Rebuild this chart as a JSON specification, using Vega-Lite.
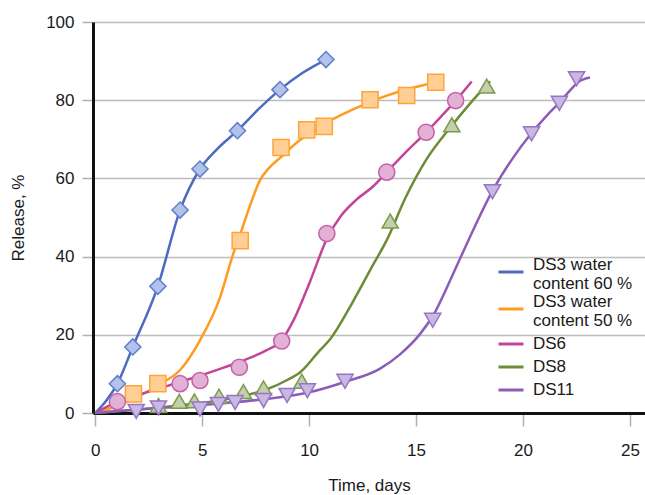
{
  "$schema": "https://vega.github.io/schema/vega-lite/v6.json",
  "width": 552,
  "height": 391,
  "autosize": "none",
  "padding": {"left": 93, "top": 22, "right": 0, "bottom": 82},
  "background": "white",
  "config": {
    "view": {"stroke": null},
    "font": "Liberation Sans",
    "axis": {"labelFont": "Liberation Sans", "titleFont": "Liberation Sans", "labelFontSize": 17, "titleFontSize": 17, "labelColor": "#1a1a1a", "titleColor": "#1a1a1a", "titleFontWeight": "normal"},
    "legend": {"labelFont": "Liberation Sans"}
  },
  "datasets": {
    "pts": [
      {"series": "DS3 water content 60 %", "x": 1.04, "y": 7.5},
      {"series": "DS3 water content 60 %", "x": 1.76, "y": 16.9},
      {"series": "DS3 water content 60 %", "x": 2.93, "y": 32.4},
      {"series": "DS3 water content 60 %", "x": 3.97, "y": 51.9},
      {"series": "DS3 water content 60 %", "x": 4.9, "y": 62.4},
      {"series": "DS3 water content 60 %", "x": 6.65, "y": 72.2},
      {"series": "DS3 water content 60 %", "x": 8.64, "y": 82.7},
      {"series": "DS3 water content 60 %", "x": 10.79, "y": 90.4},
      {"series": "DS3 water content 50 %", "x": 1.79, "y": 4.9},
      {"series": "DS3 water content 50 %", "x": 2.93, "y": 7.5},
      {"series": "DS3 water content 50 %", "x": 6.78, "y": 44.1},
      {"series": "DS3 water content 50 %", "x": 8.69, "y": 67.9},
      {"series": "DS3 water content 50 %", "x": 9.89, "y": 72.4},
      {"series": "DS3 water content 50 %", "x": 10.71, "y": 73.3},
      {"series": "DS3 water content 50 %", "x": 12.85, "y": 80.1},
      {"series": "DS3 water content 50 %", "x": 14.56, "y": 81.2},
      {"series": "DS3 water content 50 %", "x": 15.92, "y": 84.6},
      {"series": "DS6", "x": 1.04, "y": 2.9},
      {"series": "DS6", "x": 3.97, "y": 7.5},
      {"series": "DS6", "x": 4.9, "y": 8.3},
      {"series": "DS6", "x": 6.74, "y": 11.7},
      {"series": "DS6", "x": 8.72, "y": 18.4},
      {"series": "DS6", "x": 10.83, "y": 45.9},
      {"series": "DS6", "x": 13.63, "y": 61.6},
      {"series": "DS6", "x": 15.47, "y": 71.8},
      {"series": "DS6", "x": 16.85, "y": 79.9},
      {"series": "DS8", "x": 2.96, "y": 1.9},
      {"series": "DS8", "x": 3.93, "y": 3.0},
      {"series": "DS8", "x": 4.64, "y": 3.1},
      {"series": "DS8", "x": 5.79, "y": 4.3},
      {"series": "DS8", "x": 6.93, "y": 5.5},
      {"series": "DS8", "x": 7.87, "y": 6.4},
      {"series": "DS8", "x": 9.66, "y": 8.1},
      {"series": "DS8", "x": 13.79, "y": 49.1},
      {"series": "DS8", "x": 16.67, "y": 73.7},
      {"series": "DS8", "x": 18.3, "y": 83.6},
      {"series": "DS11", "x": 1.92, "y": 0.4},
      {"series": "DS11", "x": 2.96, "y": 1.3},
      {"series": "DS11", "x": 4.9, "y": 1.0},
      {"series": "DS11", "x": 5.76, "y": 2.2},
      {"series": "DS11", "x": 6.54, "y": 2.7},
      {"series": "DS11", "x": 7.87, "y": 3.2},
      {"series": "DS11", "x": 8.97, "y": 4.5},
      {"series": "DS11", "x": 9.92, "y": 5.7},
      {"series": "DS11", "x": 11.68, "y": 8.1},
      {"series": "DS11", "x": 15.78, "y": 23.7},
      {"series": "DS11", "x": 18.57, "y": 56.6},
      {"series": "DS11", "x": 20.4, "y": 71.4},
      {"series": "DS11", "x": 21.7, "y": 79.2},
      {"series": "DS11", "x": 22.5, "y": 85.5}
    ],
    "fit": [
      {"s": "DS3 water content 60 %", "x": 0, "y": 0},
      {"s": "DS3 water content 60 %", "x": 0.5, "y": 3},
      {"s": "DS3 water content 60 %", "x": 1.04, "y": 7.5},
      {"s": "DS3 water content 60 %", "x": 1.76, "y": 16.9},
      {"s": "DS3 water content 60 %", "x": 2.93, "y": 32.4},
      {"s": "DS3 water content 60 %", "x": 3.97, "y": 51.9},
      {"s": "DS3 water content 60 %", "x": 4.9, "y": 62.4},
      {"s": "DS3 water content 60 %", "x": 5.7, "y": 67.5},
      {"s": "DS3 water content 60 %", "x": 6.65, "y": 72.2},
      {"s": "DS3 water content 60 %", "x": 7.6, "y": 77.5},
      {"s": "DS3 water content 60 %", "x": 8.64, "y": 82.7},
      {"s": "DS3 water content 60 %", "x": 9.7, "y": 87},
      {"s": "DS3 water content 60 %", "x": 10.79, "y": 90.4},
      {"s": "DS3 water content 50 %", "x": 0, "y": 0},
      {"s": "DS3 water content 50 %", "x": 1, "y": 1.8},
      {"s": "DS3 water content 50 %", "x": 2, "y": 4.2},
      {"s": "DS3 water content 50 %", "x": 3, "y": 7.3},
      {"s": "DS3 water content 50 %", "x": 3.97, "y": 11},
      {"s": "DS3 water content 50 %", "x": 4.9, "y": 18.6},
      {"s": "DS3 water content 50 %", "x": 5.8, "y": 29},
      {"s": "DS3 water content 50 %", "x": 6.46, "y": 40.8},
      {"s": "DS3 water content 50 %", "x": 6.8, "y": 46},
      {"s": "DS3 water content 50 %", "x": 7.3, "y": 54},
      {"s": "DS3 water content 50 %", "x": 7.7, "y": 59.5},
      {"s": "DS3 water content 50 %", "x": 8.1, "y": 62.5},
      {"s": "DS3 water content 50 %", "x": 8.7, "y": 65.5},
      {"s": "DS3 water content 50 %", "x": 9.5, "y": 69.5},
      {"s": "DS3 water content 50 %", "x": 10.2, "y": 72},
      {"s": "DS3 water content 50 %", "x": 11, "y": 74.8},
      {"s": "DS3 water content 50 %", "x": 12, "y": 77.5},
      {"s": "DS3 water content 50 %", "x": 12.85, "y": 79.5},
      {"s": "DS3 water content 50 %", "x": 13.7, "y": 81.3},
      {"s": "DS3 water content 50 %", "x": 14.6, "y": 82.8},
      {"s": "DS3 water content 50 %", "x": 15.9, "y": 84.6},
      {"s": "DS6", "x": 0, "y": 0},
      {"s": "DS6", "x": 1, "y": 2.8},
      {"s": "DS6", "x": 2, "y": 4.6},
      {"s": "DS6", "x": 3, "y": 6.3},
      {"s": "DS6", "x": 4, "y": 8},
      {"s": "DS6", "x": 5, "y": 9.7},
      {"s": "DS6", "x": 6, "y": 11.6},
      {"s": "DS6", "x": 7, "y": 13.6},
      {"s": "DS6", "x": 8, "y": 16},
      {"s": "DS6", "x": 8.7, "y": 18.5},
      {"s": "DS6", "x": 9.3, "y": 24},
      {"s": "DS6", "x": 10, "y": 33},
      {"s": "DS6", "x": 10.83, "y": 44.5},
      {"s": "DS6", "x": 11.5, "y": 50.5},
      {"s": "DS6", "x": 12.2, "y": 54.5},
      {"s": "DS6", "x": 13, "y": 58},
      {"s": "DS6", "x": 13.63, "y": 61.6},
      {"s": "DS6", "x": 14.5, "y": 66.6},
      {"s": "DS6", "x": 15.47, "y": 71.8},
      {"s": "DS6", "x": 16.2, "y": 76},
      {"s": "DS6", "x": 16.85, "y": 79.9},
      {"s": "DS6", "x": 17.6, "y": 84.8},
      {"s": "DS8", "x": 0, "y": 0},
      {"s": "DS8", "x": 2, "y": 0.9},
      {"s": "DS8", "x": 4, "y": 2},
      {"s": "DS8", "x": 6, "y": 3.4},
      {"s": "DS8", "x": 7, "y": 4.5},
      {"s": "DS8", "x": 8, "y": 6},
      {"s": "DS8", "x": 9, "y": 8.5},
      {"s": "DS8", "x": 9.6, "y": 10.5},
      {"s": "DS8", "x": 10.5, "y": 16},
      {"s": "DS8", "x": 11, "y": 19},
      {"s": "DS8", "x": 12, "y": 28},
      {"s": "DS8", "x": 13, "y": 38},
      {"s": "DS8", "x": 13.63, "y": 44.2},
      {"s": "DS8", "x": 14.5, "y": 55},
      {"s": "DS8", "x": 15.5, "y": 65},
      {"s": "DS8", "x": 16.67, "y": 73.5},
      {"s": "DS8", "x": 17.5, "y": 79},
      {"s": "DS8", "x": 18.46, "y": 84.8},
      {"s": "DS11", "x": 0, "y": 0},
      {"s": "DS11", "x": 2, "y": 0.9},
      {"s": "DS11", "x": 4, "y": 1.6},
      {"s": "DS11", "x": 6, "y": 2.5},
      {"s": "DS11", "x": 8, "y": 3.6},
      {"s": "DS11", "x": 10, "y": 5.3},
      {"s": "DS11", "x": 11.7, "y": 8},
      {"s": "DS11", "x": 13.3, "y": 11.3},
      {"s": "DS11", "x": 14.25, "y": 15},
      {"s": "DS11", "x": 15.2, "y": 20.3},
      {"s": "DS11", "x": 15.8, "y": 25},
      {"s": "DS11", "x": 16.74, "y": 35.7},
      {"s": "DS11", "x": 17.45, "y": 44.2},
      {"s": "DS11", "x": 18.57, "y": 56.8},
      {"s": "DS11", "x": 19.5, "y": 65},
      {"s": "DS11", "x": 20.4, "y": 71.6},
      {"s": "DS11", "x": 21.1, "y": 76},
      {"s": "DS11", "x": 21.7, "y": 79.4},
      {"s": "DS11", "x": 22.2, "y": 82.5},
      {"s": "DS11", "x": 22.6, "y": 84.7},
      {"s": "DS11", "x": 23.13, "y": 85.8}
    ]
  },
  "layer": [
    {
      "data": {"name": "fit"},
      "mark": {"type": "line", "interpolate": "monotone", "strokeWidth": 2.5},
      "encoding": {
        "x": {"field": "x", "type": "quantitative", "scale": {"domain": [-0.1, 25.7], "nice": false, "zero": false},
          "axis": {"title": "Time, days", "values": [0, 5, 10, 15, 20, 25], "grid": false, "domainColor": "#111", "domainWidth": 3, "tickColor": "#b0b0b0", "tickWidth": 1.5, "tickSize": 13, "labelPadding": 16, "titlePadding": 19}},
        "y": {"field": "y", "type": "quantitative", "scale": {"domain": [0, 100], "nice": false},
          "axis": {"title": "Release, %", "values": [0, 20, 40, 60, 80, 100], "grid": true, "gridColor": "#bdbdbd", "gridWidth": 1.5, "domainColor": "#111", "domainWidth": 3, "tickColor": "#b0b0b0", "tickWidth": 1.5, "tickSize": 11, "labelPadding": 8, "titlePadding": 18}},
        "color": {"field": "s", "type": "nominal",
          "scale": {"domain": ["DS3 water content 60 %", "DS3 water content 50 %", "DS6", "DS8", "DS11"], "range": ["#4a6bc0", "#ff9b21", "#c2449b", "#6e8c37", "#8c5db8"]},
          "legend": {"title": null, "orient": "none", "legendX": 404, "legendY": 236, "padding": 0, "symbolType": "stroke", "symbolSize": 625, "symbolStrokeWidth": 3, "labelFontSize": 17, "labelColor": "#1a1a1a", "labelOffset": 8, "labelLineHeight": 17, "rowPadding": 1, "labelLimit": 300,
            "labelExpr": "indexof(datum.label, 'water') > 0 ? [slice(datum.label, 0, 9), slice(datum.label, 10)] : datum.label",
            "encode": {"labels": {"update": {"dy": {"signal": "indexof(datum.label, 'water') > 0 ? -7 : 0"}}}}}}
      }
    },
    {
      "data": {"name": "pts"},
      "mark": {"type": "point", "filled": false, "strokeWidth": 1.5, "fillOpacity": 1, "opacity": 1},
      "encoding": {
        "x": {"field": "x", "type": "quantitative"},
        "y": {"field": "y", "type": "quantitative"},
        "shape": {"field": "series", "type": "nominal", "legend": null,
          "scale": {"domain": ["DS11", "DS8", "DS6", "DS3 water content 50 %", "DS3 water content 60 %"], "range": ["triangle-down", "triangle-up", "circle", "square", "diamond"]}},
        "size": {"field": "series", "type": "nominal", "legend": null,
          "scale": {"domain": ["DS11", "DS8", "DS6", "DS3 water content 50 %", "DS3 water content 60 %"], "range": [260, 260, 230, 160, 330]}},
        "fill": {"field": "series", "type": "nominal", "legend": null,
          "scale": {"domain": ["DS11", "DS8", "DS6", "DS3 water content 50 %", "DS3 water content 60 %"], "range": ["#c9b9e2", "#c3cfae", "#e3b0d6", "#ffcf96", "#b4c2ea"]}},
        "stroke": {"field": "series", "type": "nominal", "legend": null,
          "scale": {"domain": ["DS11", "DS8", "DS6", "DS3 water content 50 %", "DS3 water content 60 %"], "range": ["#9575c4", "#7d9a4c", "#c462a8", "#ffa43a", "#5f7fcc"]}}
      }
    }
  ]
}
